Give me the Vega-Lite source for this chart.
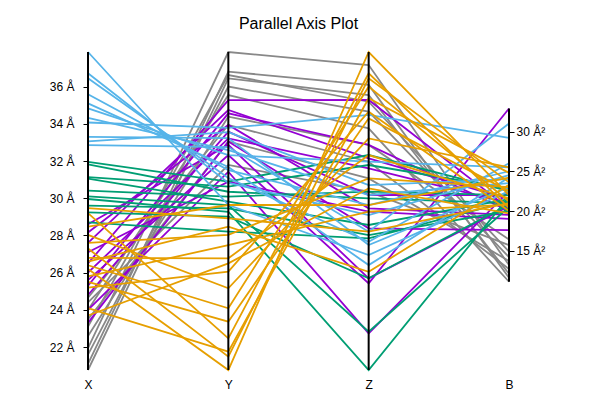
{
  "$schema": "https://vega.github.io/schema/vega-lite/v6.json",
  "width": 421,
  "height": 318,
  "autosize": "none",
  "padding": {"left": 88, "top": 52, "right": 91, "bottom": 30},
  "background": "white",
  "title": {"text": "Parallel Axis Plot", "font": "Liberation Sans", "fontSize": 16, "fontWeight": "normal", "color": "black", "offset": 16},
  "config": {"view": {"stroke": null}, "axis": {"labelFont": "Liberation Sans", "labelFontSize": 12, "labelColor": "black", "tickColor": "black", "grid": false}},
  "data": {"values": [
    {"group": "1", "id": "g1", "X": 21.95, "Y": 38.0, "Z": 73.77, "B": 13.2},
    {"group": "1", "id": "g2", "X": 21.1, "Y": 36.95, "Z": 71.89, "B": 11.6},
    {"group": "1", "id": "g3", "X": 23.1, "Y": 36.77, "Z": 70.31, "B": 14.9},
    {"group": "1", "id": "g4", "X": 20.77, "Y": 36.59, "Z": 70.94, "B": 12.1},
    {"group": "1", "id": "g5", "X": 21.6, "Y": 36.15, "Z": 69.37, "B": 14.2},
    {"group": "1", "id": "g6", "X": 24.0, "Y": 35.7, "Z": 67.8, "B": 11.1},
    {"group": "1", "id": "g7", "X": 22.6, "Y": 34.54, "Z": 66.23, "B": 16.4},
    {"group": "1", "id": "g8", "X": 24.65, "Y": 34.1, "Z": 64.65, "B": 12.7},
    {"group": "1", "id": "g9", "X": 23.5, "Y": 33.21, "Z": 63.08, "B": 13.7},
    {"group": "1", "id": "g10", "X": 24.4, "Y": 31.96, "Z": 61.82, "B": 15.7},
    {"group": "2", "id": "p1", "X": 26.5, "Y": 35.43, "Z": 70.47, "B": 20.3},
    {"group": "2", "id": "p2", "X": 27.6, "Y": 34.9, "Z": 64.97, "B": 21.5},
    {"group": "2", "id": "p3", "X": 25.3, "Y": 34.72, "Z": 66.23, "B": 20.0},
    {"group": "2", "id": "p4", "X": 28.16, "Y": 34.1, "Z": 60.25, "B": 19.5},
    {"group": "2", "id": "p5", "X": 24.8, "Y": 33.74, "Z": 61.51, "B": 22.0},
    {"group": "2", "id": "p6", "X": 26.0, "Y": 33.38, "Z": 64.02, "B": 21.0},
    {"group": "2", "id": "p7", "X": 23.3, "Y": 33.21, "Z": 58.36, "B": 17.6},
    {"group": "2", "id": "p8", "X": 28.6, "Y": 33.03, "Z": 53.65, "B": 20.6},
    {"group": "2", "id": "p9", "X": 25.6, "Y": 32.49, "Z": 53.17, "B": 32.9},
    {"group": "2", "id": "p10", "X": 24.0, "Y": 31.6, "Z": 48.46, "B": 22.5},
    {"group": "2", "id": "p11", "X": 27.1, "Y": 31.07, "Z": 59.94, "B": 19.0},
    {"group": "3", "id": "gA", "X": 31.95, "Y": 31.07, "Z": 65.28, "B": 22.5},
    {"group": "3", "id": "gB", "X": 31.82, "Y": 30.53, "Z": 61.19, "B": 21.0},
    {"group": "3", "id": "gC", "X": 31.14, "Y": 30.8, "Z": 64.34, "B": 22.8},
    {"group": "3", "id": "gD", "X": 31.05, "Y": 30.0, "Z": 58.68, "B": 21.5},
    {"group": "3", "id": "gE", "X": 30.41, "Y": 30.27, "Z": 61.82, "B": 22.0},
    {"group": "3", "id": "gF", "X": 30.1, "Y": 29.82, "Z": 48.61, "B": 20.5},
    {"group": "3", "id": "gG", "X": 29.96, "Y": 29.46, "Z": 45.0, "B": 21.8},
    {"group": "3", "id": "gH", "X": 29.6, "Y": 29.64, "Z": 57.73, "B": 20.0},
    {"group": "3", "id": "gI", "X": 29.24, "Y": 29.2, "Z": 53.65, "B": 20.8},
    {"group": "3", "id": "gJ", "X": 28.7, "Y": 28.4, "Z": 57.42, "B": 21.2},
    {"group": "4", "id": "s1", "X": 37.86, "Y": 29.82, "Z": 55.85, "B": 22.5},
    {"group": "4", "id": "s2", "X": 36.72, "Y": 31.0, "Z": 59.62, "B": 24.5},
    {"group": "4", "id": "s3", "X": 36.45, "Y": 31.26, "Z": 57.1, "B": 26.0},
    {"group": "4", "id": "s4", "X": 35.59, "Y": 31.69, "Z": 60.56, "B": 25.0},
    {"group": "4", "id": "s5", "X": 35.1, "Y": 31.85, "Z": 54.9, "B": 24.2},
    {"group": "4", "id": "s6", "X": 34.83, "Y": 32.49, "Z": 64.65, "B": 25.5},
    {"group": "4", "id": "s7", "X": 34.32, "Y": 32.76, "Z": 61.51, "B": 23.5},
    {"group": "4", "id": "s8", "X": 34.07, "Y": 33.94, "Z": 69.06, "B": 29.2},
    {"group": "4", "id": "s9", "X": 33.3, "Y": 33.4, "Z": 56.79, "B": 23.0},
    {"group": "4", "id": "s10", "X": 33.06, "Y": 33.72, "Z": 62.45, "B": 24.0},
    {"group": "4", "id": "s11", "X": 32.85, "Y": 32.92, "Z": 58.05, "B": 31.0},
    {"group": "5", "id": "o1", "X": 29.47, "Y": 29.11, "Z": 58.05, "B": 21.0},
    {"group": "5", "id": "o2", "X": 29.2, "Y": 22.69, "Z": 72.99, "B": 20.4},
    {"group": "5", "id": "o3", "X": 28.48, "Y": 29.82, "Z": 60.56, "B": 24.2},
    {"group": "5", "id": "o4", "X": 28.03, "Y": 25.37, "Z": 66.85, "B": 25.5},
    {"group": "5", "id": "o5", "X": 27.6, "Y": 28.22, "Z": 63.08, "B": 23.0},
    {"group": "5", "id": "o6", "X": 27.3, "Y": 21.71, "Z": 72.52, "B": 23.6},
    {"group": "5", "id": "o7", "X": 26.8, "Y": 26.97, "Z": 65.28, "B": 21.6},
    {"group": "5", "id": "o8", "X": 26.6, "Y": 28.66, "Z": 54.27, "B": 23.3},
    {"group": "5", "id": "o9", "X": 26.4, "Y": 24.3, "Z": 71.73, "B": 21.2},
    {"group": "5", "id": "o10", "X": 26.2, "Y": 21.0, "Z": 75.0, "B": 22.0},
    {"group": "5", "id": "o11", "X": 25.8, "Y": 27.68, "Z": 59.94, "B": 20.8},
    {"group": "5", "id": "o12", "X": 25.5, "Y": 23.58, "Z": 68.74, "B": 22.5},
    {"group": "5", "id": "o13", "X": 25.2, "Y": 26.26, "Z": 69.37, "B": 20.0},
    {"group": "5", "id": "o14", "X": 24.1, "Y": 21.98, "Z": 70.63, "B": 24.8},
    {"group": "5", "id": "o15", "X": 23.7, "Y": 26.7, "Z": 62.14, "B": 19.7}
  ]},
  "transform": [
    {"fold": ["X", "Y", "Z", "B"], "as": ["key", "value"]},
    {"joinaggregate": [{"op": "min", "field": "value", "as": "mn"}, {"op": "max", "field": "value", "as": "mx"}], "groupby": ["key"]},
    {"calculate": "datum.key === 'B' ? datum.value / 40 : (datum.value - datum.mn) / (datum.mx - datum.mn)", "as": "norm"}
  ],
  "layer": [
    {
      "mark": {"type": "line", "strokeWidth": 1.8},
      "encoding": {
        "x": {"field": "key", "type": "nominal", "sort": ["X", "Y", "Z", "B"], "scale": {"type": "point", "padding": 0}, "axis": {"title": null, "domain": false, "ticks": false, "labelAngle": 0, "labelPadding": 9}},
        "y": {"field": "norm", "type": "quantitative", "scale": {"domain": [0, 1]}, "axis": null},
        "color": {"field": "group", "type": "nominal", "scale": {"domain": ["1", "2", "3", "4", "5"], "range": ["#888888", "#9400D3", "#009E73", "#56B4E9", "#E69F00"]}, "legend": null},
        "detail": {"field": "id", "type": "nominal"}
      }
    },
    {
      "mark": {"type": "rule", "color": "black", "strokeWidth": 2},
      "encoding": {
        "x": {"field": "key", "type": "nominal", "sort": ["X", "Y", "Z", "B"]},
        "y": {"aggregate": "min", "field": "norm", "type": "quantitative", "scale": {"domain": [0, 1]}, "axis": null},
        "y2": {"aggregate": "max", "field": "norm"}
      }
    },
    {
      "mark": {"type": "point", "opacity": 0},
      "encoding": {
        "y": {"field": "X", "type": "quantitative", "scale": {"zero": false, "nice": false}, "axis": {"orient": "left", "title": null, "domain": false, "values": [22, 24, 26, 28, 30, 32, 34, 36], "labelExpr": "datum.value + ' Å'", "tickSize": 5, "labelPadding": 9}}
      }
    },
    {
      "mark": {"type": "point", "opacity": 0},
      "encoding": {
        "y": {"field": "B", "type": "quantitative", "scale": {"domain": [0, 40]}, "axis": {"orient": "right", "title": null, "domain": false, "values": [15, 20, 25, 30], "labelExpr": "datum.value + ' Å²'", "tickSize": 5, "labelPadding": 2}}
      }
    }
  ],
  "resolve": {"scale": {"y": "independent"}}
}
